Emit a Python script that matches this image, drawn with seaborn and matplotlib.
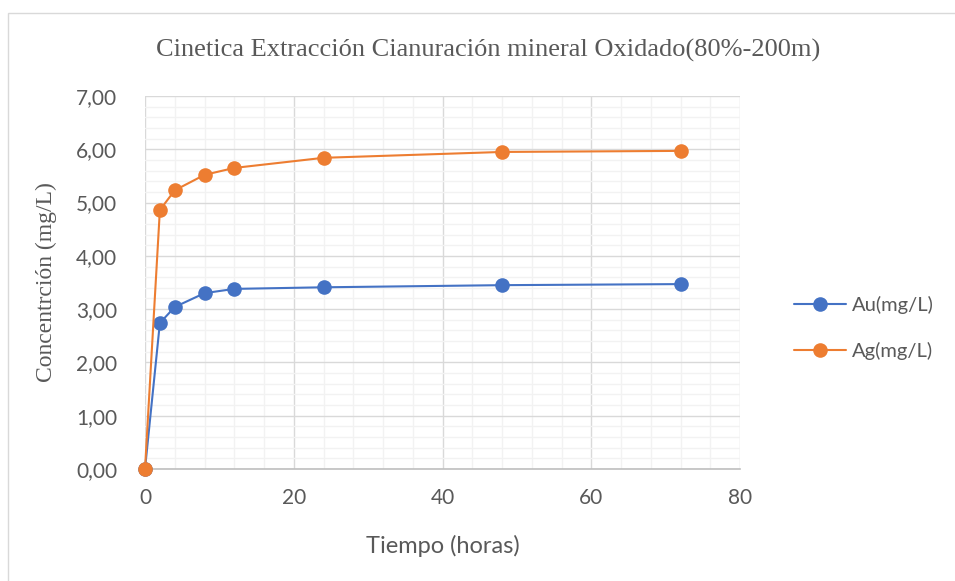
import matplotlib
matplotlib.use("Agg")
import matplotlib.pyplot as plt
from matplotlib.patches import Rectangle
from matplotlib.ticker import MultipleLocator, FuncFormatter
import seaborn as sns
import pandas as pd

# Extraction kinetics data
tiempo_h = [0, 2, 4, 8, 12, 24, 48, 72]
au_mg_l = [0.00, 2.74, 3.04, 3.30, 3.38, 3.41, 3.45, 3.47]
ag_mg_l = [0.00, 4.86, 5.23, 5.52, 5.65, 5.84, 5.95, 5.97]
series_names = ["Au(mg/L)", "Ag(mg/L)"]
series_colors = ["#4472C4", "#ED7D31"]

df = pd.concat([
    pd.DataFrame({"Tiempo": tiempo_h, "Conc": au_mg_l, "Serie": series_names[0]}),
    pd.DataFrame({"Tiempo": tiempo_h, "Conc": ag_mg_l, "Serie": series_names[1]}),
])

sns.set_theme(style="white")
sans = ["Lato", "DejaVu Sans"]
serif = ["Liberation Serif", "DejaVu Serif"]
text_grey = "#595959"

fig = plt.figure(figsize=(9.55, 5.81), dpi=100)
fig.patch.set_facecolor("white")
# chart frame
fig.patches.append(Rectangle((8 / 955, -0.05), 1.1, 1 - 13 / 581 + 0.05,
                             transform=fig.transFigure, fill=False,
                             edgecolor="#D9D9D9", linewidth=1.0))

ax = fig.add_axes([145 / 955, (581 - 469) / 581, (740 - 145) / 955, (469 - 96) / 581])

ax.set_xlim(0, 80)
ax.set_ylim(0, 7)
ax.xaxis.set_major_locator(MultipleLocator(20))
ax.xaxis.set_minor_locator(MultipleLocator(4))
ax.yaxis.set_major_locator(MultipleLocator(1))
ax.yaxis.set_minor_locator(MultipleLocator(0.2))
ax.grid(which="minor", color="#F2F2F2", linewidth=1.0)
ax.grid(which="major", color="#D9D9D9", linewidth=1.0)
ax.set_axisbelow(True)

sns.lineplot(data=df, x="Tiempo", y="Conc", hue="Serie", hue_order=series_names,
             palette=series_colors, marker="o", markersize=10.5, markeredgewidth=0,
             linewidth=1.5, ax=ax, clip_on=False, zorder=3)

for s in ["top", "right", "left"]:
    ax.spines[s].set_visible(False)
ax.spines["bottom"].set_color("#BFBFBF")
ax.spines["bottom"].set_linewidth(1.2)

ax.yaxis.set_major_formatter(FuncFormatter(lambda v, p: f"{v:.2f}".replace(".", ",")))
ax.tick_params(axis="both", which="both", length=0, colors=text_grey, labelsize=15)
ax.tick_params(axis="x", pad=14)
ax.tick_params(axis="y", pad=20)
for lab in ax.get_xticklabels() + ax.get_yticklabels():
    lab.set_family(sans)

ax.set_xlabel("Tiempo (horas)", family=sans, fontsize=17, color=text_grey, labelpad=19)
ax.set_ylabel("Concentrción (mg/L)", family=serif, fontsize=17, color=text_grey, labelpad=14)

fig.text(488 / 955, 1 - 50 / 581, "Cinetica Extracción Cianuración mineral Oxidado(80%-200m)",
         ha="center", va="center", family=serif, fontsize=19, color=text_grey)

leg = ax.legend(loc="center left", bbox_to_anchor=(1.06, 0.378), frameon=False,
                prop={"family": sans, "size": 14.5}, labelspacing=1.35,
                handlelength=2.6, handletextpad=0.3)
for t in leg.get_texts():
    t.set_color(text_grey)

fig.savefig("out.png", dpi=100, facecolor="white")
